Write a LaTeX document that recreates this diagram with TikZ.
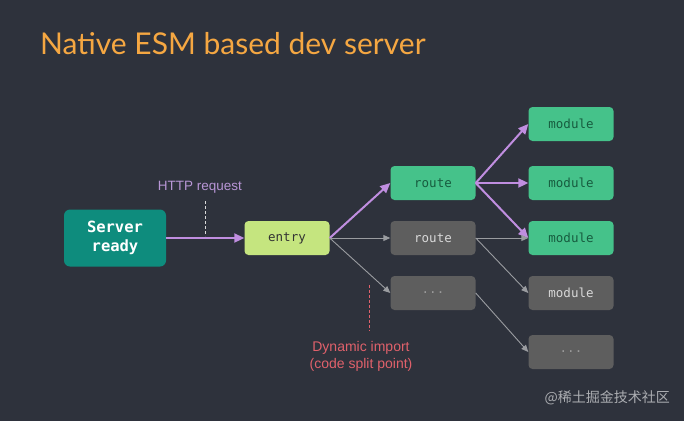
\documentclass[tikz,border=0pt]{standalone}
\usepackage{fontspec}
\setmainfont{Liberation Sans}
\setmonofont{DejaVu Sans Mono}
\newfontfamily\titlefont{Lato}
\newfontfamily\cjk{Noto Sans CJK SC}
\usetikzlibrary{arrows.meta}
\definecolor{bg}{HTML}{2E323C}
\definecolor{teal}{HTML}{0E8C7D}
\definecolor{lime}{HTML}{C5E57F}
\definecolor{mgreen}{HTML}{45C28A}
\definecolor{mtext}{HTML}{175C3F}
\definecolor{gbox}{HTML}{5E5E5E}
\definecolor{gtext}{HTML}{D8D8D8}
\definecolor{gdots}{HTML}{9A9A9A}
\definecolor{purp}{HTML}{C08EE0}
\definecolor{purptext}{HTML}{B896D6}
\definecolor{garrow}{HTML}{9A9CA0}
\definecolor{redt}{HTML}{E0616B}
\definecolor{orangeT}{HTML}{F5A742}
\tikzset{
  box/.style={rectangle, rounded corners=4pt, minimum width=85pt, minimum height=34pt, inner sep=0pt, font=\ttfamily\fontsize{12.5}{14}\selectfont},
  greenbox/.style={box, fill=mgreen, text=mtext},
  graybox/.style={box, fill=gbox, text=gtext},
  dotsbox/.style={box, fill=gbox, text=gdots},
  parr/.style={draw=purp, line width=2pt, -{Triangle[length=10pt,width=9pt]}},
  garr/.style={draw=garrow, line width=0.9pt, -{Triangle[length=7pt,width=6pt]}},
}
\begin{document}
\begin{tikzpicture}[x=1pt,y=-1pt]
\fill[bg] (0,0) rectangle (684,421);
\useasboundingbox (0,0) rectangle (684,421);
\node[anchor=base west, text=orangeT, font=\titlefont\fontsize{30}{34}\selectfont, inner sep=0pt] (title) at (40,54) {Native ESM based dev server};
\node[rectangle, rounded corners=6pt, fill=teal, minimum width=102pt, minimum height=57pt, inner sep=0pt, text=white, align=center, font=\ttfamily\bfseries\fontsize{15.5}{19}\selectfont] (srv) at (115,238) {Server\\ready};
\node[box, fill=lime, text=black!80] (entry) at (287,238) {entry};
\node[greenbox] (r1) at (433,183) {route};
\node[graybox] (r2) at (433,238) {route};
\node[dotsbox] (r3) at (433,293) {...};
\node[greenbox] (m1) at (571,124) {module};
\node[greenbox] (m2) at (571,183) {module};
\node[greenbox] (m3) at (571,238) {module};
\node[graybox] (m4) at (571,293) {module};
\node[dotsbox] (m5) at (571,352) {...};
\draw[parr] (srv.east) -- (entry.west);
\draw[parr] (entry.east) -- (r1.west);
\draw[garr] (entry.east) -- (r2.west);
\draw[garr] (entry.east) -- (r3.west);
\draw[parr] (r1.east) -- (m1.west);
\draw[parr] (r1.east) -- (m2.west);
\draw[parr] (r1.east) -- (m3.west);
\draw[garr] (r2.east) -- (m3.west);
\draw[garr] (r2.east) -- (m4.west);
\draw[garr] (r3.east) -- (m5.west);
\node[text=purptext, font=\fontsize{13.5}{15}\selectfont, inner sep=0pt] (http) at (200,187) {HTTP request};
\coordinate (h1) at (205,201);
\coordinate (h2) at (205,236);
\draw[white!85!black, line width=0.7pt, dash pattern=on 3pt off 2pt] (h1) -- (h2);
\node[text=redt, font=\fontsize{14}{17}\selectfont, align=center, inner sep=0pt] (dyn) at (361,356) {Dynamic import\\(code split point)};
\coordinate (d1) at (369,285);
\coordinate (d2) at (369,331);
\draw[redt, line width=0.8pt, dash pattern=on 3pt off 2pt] (d1) -- (d2);
\node[text=white!60!bg, font=\cjk\fontsize{14}{16}\selectfont, anchor=east, inner sep=0pt] (wm) at (670,398) {@稀土掘金技术社区};
\end{tikzpicture}
\end{document}
